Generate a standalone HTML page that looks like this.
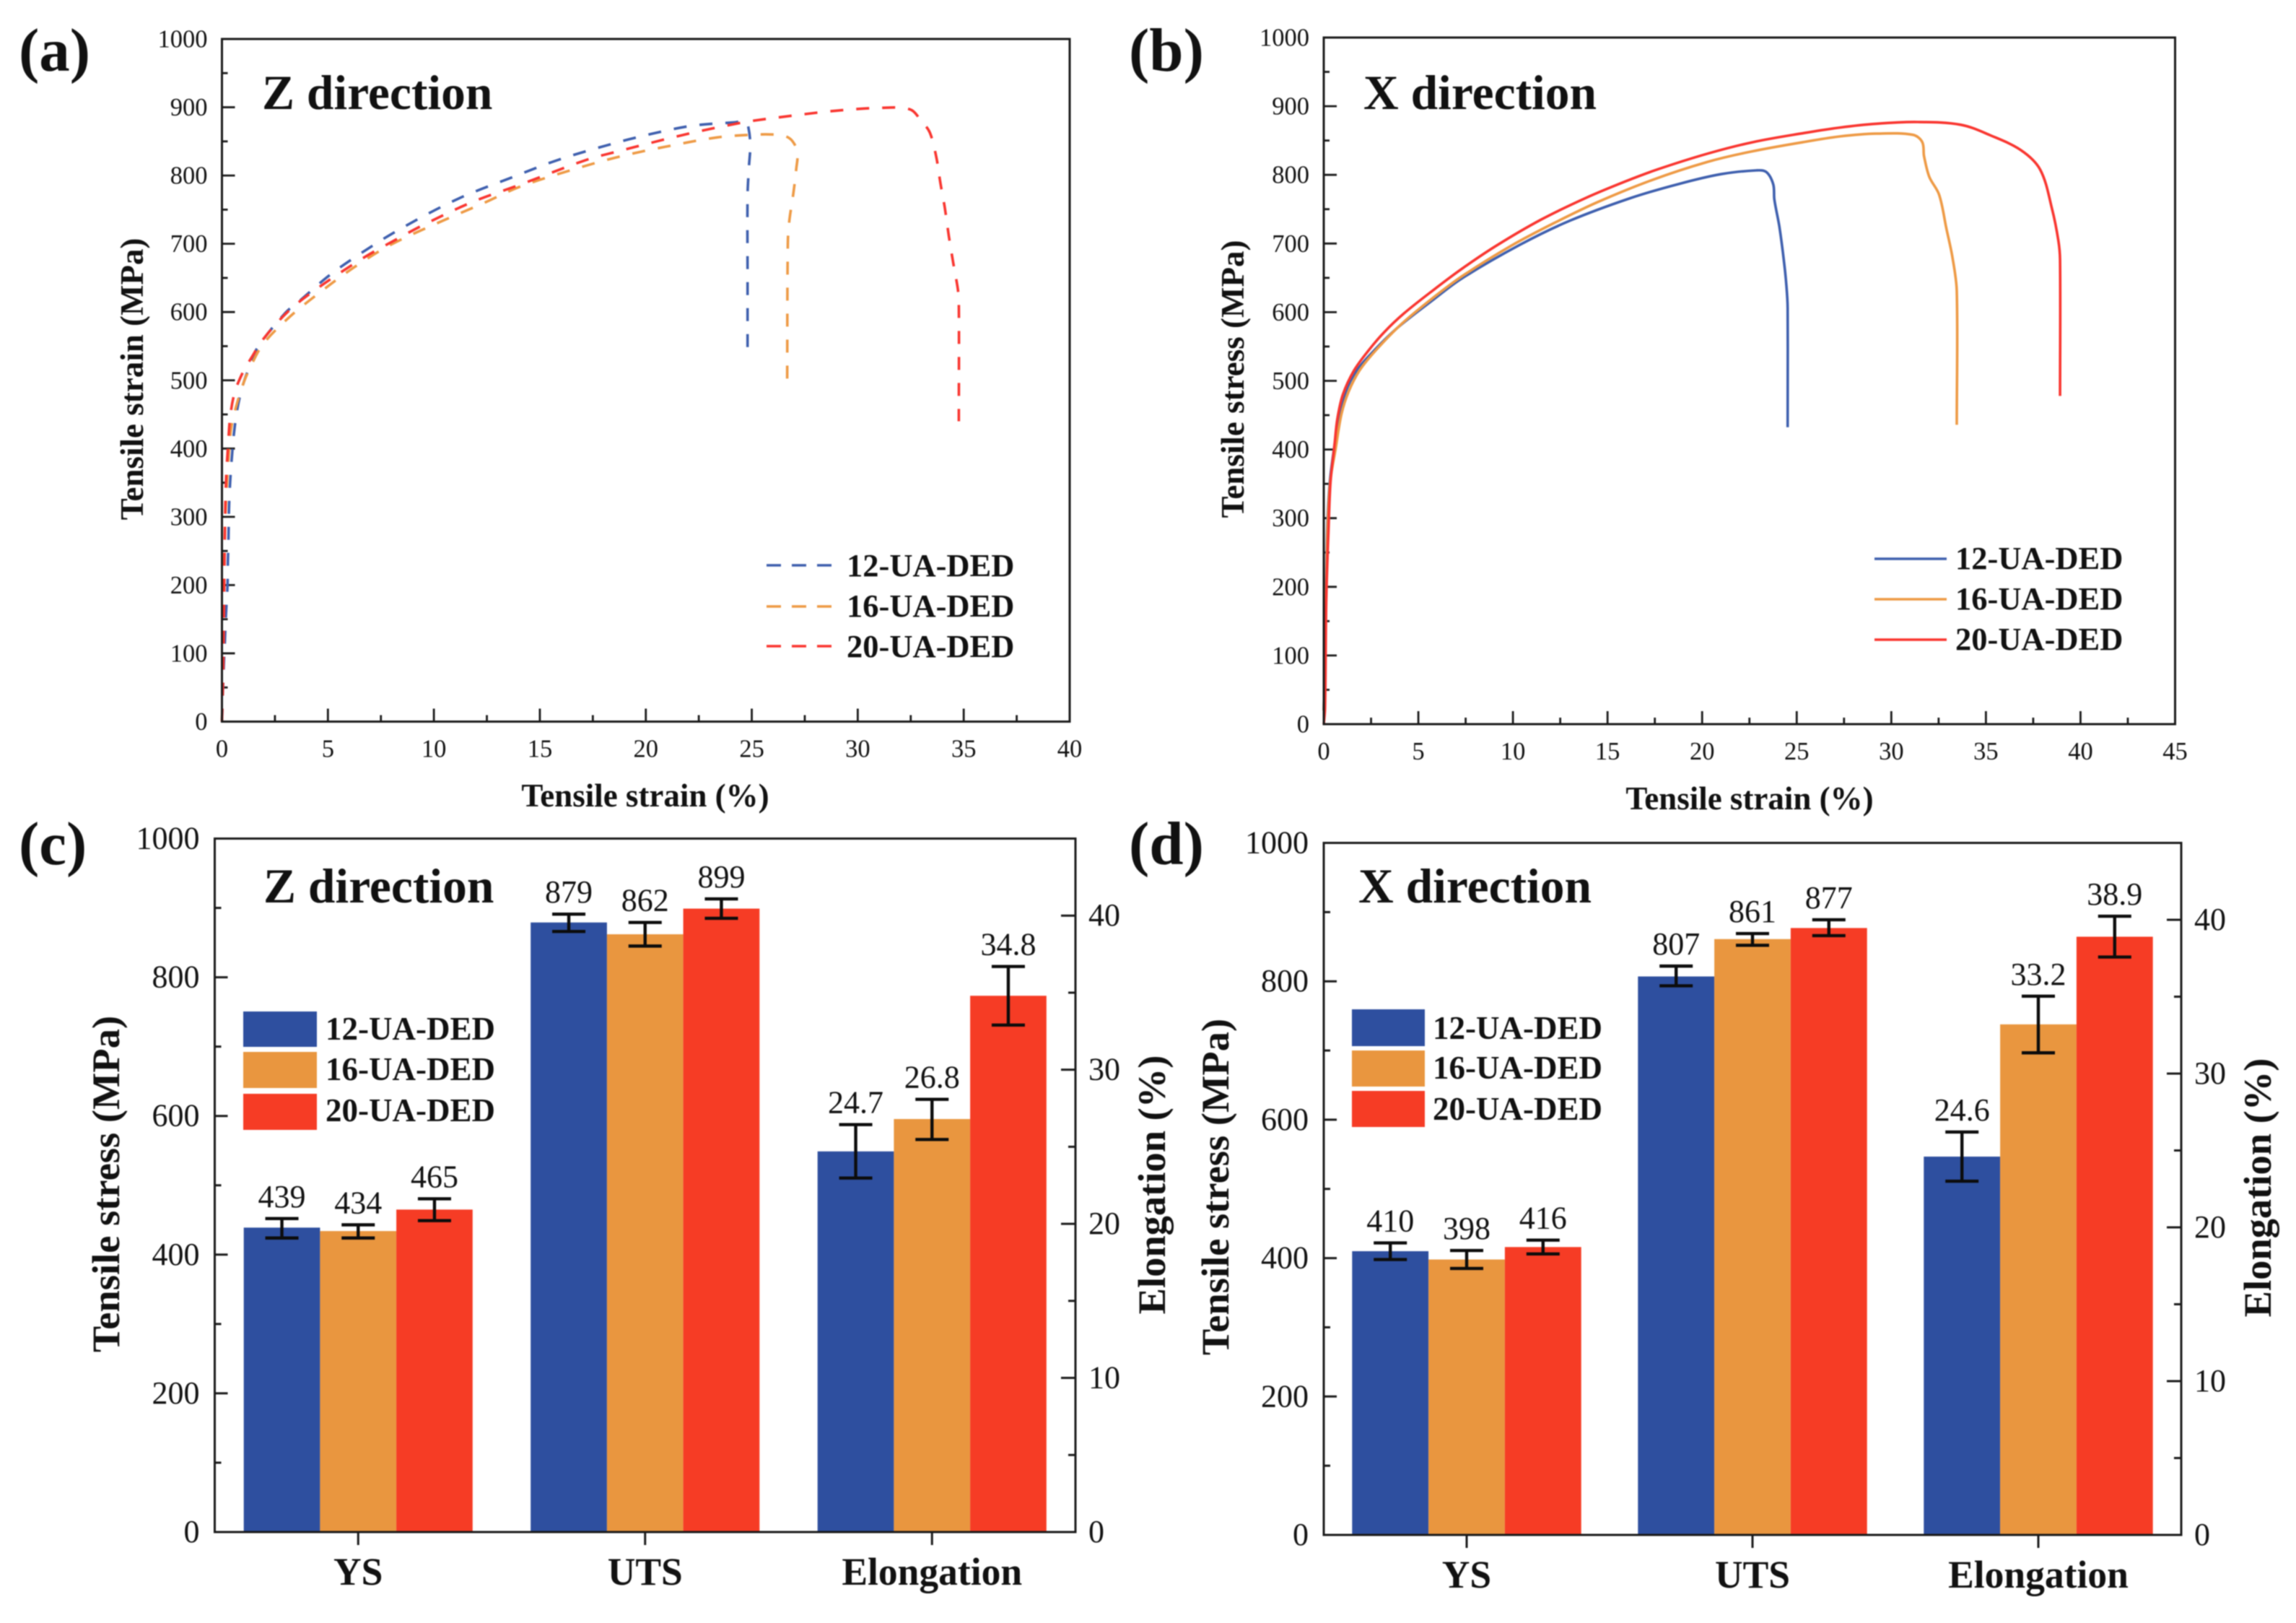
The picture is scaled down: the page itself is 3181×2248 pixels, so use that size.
<!DOCTYPE html>
<html lang="en">
<head>
<meta charset="utf-8">
<title>Tensile properties of UA-DED samples in Z and X directions</title>
<style>
html,body{margin:0;padding:0;background:#fff;}
svg{display:block;filter:blur(0.7px);}
text{font-family:"Liberation Serif",serif;fill:#111;}
.b{font-weight:bold;}
</style>
</head>
<body>
<svg id="figure" xmlns="http://www.w3.org/2000/svg" width="3181" height="2248" viewBox="0 0 3181 2248">
  <rect x="0" y="0" width="3181" height="2248" fill="#fff"/>

  <text class="b" x="26" y="98" font-size="85">(a)</text>
  <text class="b" x="1564" y="98" font-size="85">(b)</text>
  <text class="b" x="26" y="1197" font-size="85">(c)</text>
  <text class="b" x="1564" y="1197" font-size="85">(d)</text>

  <text class="b" x="363" y="151" font-size="67.5">Z direction</text>
  <text class="b" x="1889" y="151" font-size="67.5">X direction</text>
  <text class="b" x="365" y="1250" font-size="67.5">Z direction</text>
  <text class="b" x="1882" y="1250" font-size="67.5">X direction</text>

  <text class="b" x="894" y="1117" font-size="45" text-anchor="middle">Tensile strain (%)</text>
  <text class="b" transform="translate(198 525) rotate(-90)" font-size="45" text-anchor="middle">Tensile strain (MPa)</text>
  <text class="b" x="2424" y="1121" font-size="45" text-anchor="middle">Tensile strain (%)</text>
  <text class="b" transform="translate(1723 525) rotate(-90)" font-size="45" text-anchor="middle">Tensile stress (MPa)</text>

  <text class="b" transform="translate(165 1640) rotate(-90)" font-size="54.5" text-anchor="middle">Tensile stress (MPa)</text>
  <text class="b" transform="translate(1614 1641) rotate(-90)" font-size="54.5" text-anchor="middle">Elongation (%)</text>
  <text class="b" transform="translate(1702 1644) rotate(-90)" font-size="54.5" text-anchor="middle">Tensile stress (MPa)</text>
  <text class="b" transform="translate(3146 1645) rotate(-90)" font-size="54.5" text-anchor="middle">Elongation (%)</text>

  <g>
    <line x1="1062" x2="1153" y1="783" y2="783" stroke="#3E5FAE" stroke-width="3.5" stroke-dasharray="20 15"/>
    <line x1="1062" x2="1153" y1="840" y2="840" stroke="#EE9A45" stroke-width="3.5" stroke-dasharray="20 15"/>
    <line x1="1062" x2="1153" y1="895" y2="895" stroke="#F9352F" stroke-width="3.5" stroke-dasharray="20 15"/>
    <text class="b" x="1173" y="798" font-size="44.5">12-UA-DED</text>
    <text class="b" x="1173" y="854" font-size="44.5">16-UA-DED</text>
    <text class="b" x="1173" y="910" font-size="44.5">20-UA-DED</text>
  </g>
  <g>
    <line x1="2597" x2="2697" y1="774" y2="774" stroke="#3E5FAE" stroke-width="3.5"/>
    <line x1="2597" x2="2697" y1="830" y2="830" stroke="#EE9A45" stroke-width="3.5"/>
    <line x1="2597" x2="2697" y1="886" y2="886" stroke="#F9352F" stroke-width="3.5"/>
    <text class="b" x="2709" y="788" font-size="44.5">12-UA-DED</text>
    <text class="b" x="2709" y="844" font-size="44.5">16-UA-DED</text>
    <text class="b" x="2709" y="900" font-size="44.5">20-UA-DED</text>
  </g>
  <g>
    <rect x="337" y="1401" width="102" height="49" fill="#2E4F9F"/>
    <rect x="337" y="1457" width="102" height="50" fill="#E9963F"/>
    <rect x="337" y="1515" width="102" height="50" fill="#F63C25"/>
    <text class="b" x="451" y="1440" font-size="45">12-UA-DED</text>
    <text class="b" x="451" y="1496" font-size="45">16-UA-DED</text>
    <text class="b" x="451" y="1553" font-size="45">20-UA-DED</text>
  </g>
  <g>
    <rect x="1873" y="1398" width="101" height="51" fill="#2E4F9F"/>
    <rect x="1873" y="1455" width="101" height="50" fill="#E9963F"/>
    <rect x="1873" y="1511" width="101" height="50" fill="#F63C25"/>
    <text class="b" x="1985" y="1439" font-size="45">12-UA-DED</text>
    <text class="b" x="1985" y="1494" font-size="45">16-UA-DED</text>
    <text class="b" x="1985" y="1551" font-size="45">20-UA-DED</text>
  </g>
</svg>

<script>
// Panel (a): Z direction stress-strain
const zStrain12 = [0,0.085,0.14,0.19,0.26,0.28,0.31,0.33,0.38,0.46,0.56,0.72,0.97,1.3,1.7,3,3.65,5.12,6.75,8.54,11.15,13.75,15.87,18.48,20.27,22.2,24.2,24.7,24.83,24.93,24.87,24.8,24.8,24.8];
const zStress12 = [0,81,119,158,197,234,271,310,348,384,420,457,491,520,549,599,616,655,690,724,766,798,823,847,861,873,878,879,872,846,814,771,650,537];
const zStrain16 = [0,0.06,0.14,0.26,0.36,0.45,0.7,1.03,1.35,1.94,3.16,4.63,6.26,7.9,9.85,12.3,14.1,16.7,18.8,20.9,23.4,25.2,26.1,26.56,26.9,27.15,27.1,26.95,26.77,26.7,26.67];
const zStress16 = [0,100,281,362,408,433,465,497,520,553,592,629,666,697.5,726,759,784,810,828,842,856,860,860,858,851,835,810,771,733,700,500];
const zStrain20 = [0,0.05,0.085,0.14,0.19,0.29,0.39,0.6,0.96,1.37,1.94,3.16,4.47,6.6,8.2,9.5,11.8,14.1,17.2,18.64,20.9,22.55,24.2,25,27,29,31,32.45,33,33.4,33.7,33.9,34.1,34.3,34.5,34.72,34.77,34.77];
const zStress20 = [0,60,140,281,352,405,447,482,510,532,560,602,634,678,706,727.5,761,787,823,835,853,865,875.5,880,888,895,899,897,880,863,828,789,754,711,673,634,613,440];

// Panel (b): X direction stress-strain
const xStrain12 = [0,0.11,0.18,0.32,0.57,0.8,1.16,1.74,2.62,3.93,5.83,7.29,10.36,12.99,16.2,18.8,21,22.87,23.4,23.76,23.82,24.08,24.33,24.46,24.52,24.52];
const xStress12 = [20,177,283,353,406,445,484,515,543,578,619,649,698,733,766,787,801,806.5,804,786,764,725,673,637,606,432.5];
const xStrain16 = [0,0.12,0.2,0.34,0.62,0.94,1.31,1.89,2.77,4.08,5.69,7.29,9.92,12.26,14.45,17.4,20.3,22.6,25.4,27.3,29.2,31.13,31.63,31.73,32.01,32.53,32.91,33.23,33.46,33.46];
const xStress16 = [20,177,283,353,400,452,484,515,545,582,619,652,697,731,760,793,819,834,848,856,860,858.4,848,827,797,771,722,680,631,436];
const xStrain20 = [0,0.07,0.13,0.25,0.36,0.58,0.72,1.01,1.6,2.33,3.2,4.23,5.69,7.29,9.19,11.5,13.9,15.9,17.65,20.3,22.74,25.4,27.3,29.2,31.39,33.67,35.2,36.85,37.87,38.5,38.83,38.92,38.92];
const xStress20 = [0,24,177,283,353,410,445,480,515,543,571,598,630,663,698,735,767,790,808,831,848,861,869,874.5,877,873,858,836,807.6,750,704,676,478];

// Shared axis ticks for stress-strain panels
const stressTicksLine = [0,100,200,300,400,500,600,700,800,900,1000];
const stressMinorLine = [50,150,250,350,450,550,650,750,850,950];
const strainTicksA = [0,5,10,15,20,25,30,35,40];
const strainMinorA = [2.5,7.5,12.5,17.5,22.5,27.5,32.5,37.5];
const strainTicksB = [0,5,10,15,20,25,30,35,40,45];
const strainMinorB = [2.5,7.5,12.5,17.5,22.5,27.5,32.5,37.5,42.5];

// Bar panels: categories and ticks
const categories = ['YS','UTS','Elongation'];
const stressTicksBar = [0,200,400,600,800,1000];
const stressMinorBar = [100,300,500,700,900];
const elongTicks = [0,10,20,30,40];
const elongMinor = [5,15,25,35];

// Panel (c): Z direction values
const zBar12 = [439,879,24.7];
const zBar16 = [434,862,26.8];
const zBar20 = [465,899,34.8];
const zBar12ErrUp = [13,12,1.74];
const zBar12ErrDown = [15,13,1.73];
const zBar16ErrUp = [9,17,1.28];
const zBar16ErrDown = [10,17,1.33];
const zBar20ErrUp = [15.5,14,1.9];
const zBar20ErrDown = [16,14,1.9];

// Panel (d): X direction values
const xBar12 = [410,807,24.6];
const xBar16 = [398,861,33.2];
const xBar20 = [416,877,38.9];
const xBar12ErrUp = [12,15,1.6];
const xBar12ErrDown = [12,13.5,1.6];
const xBar16ErrUp = [13,8,1.83];
const xBar16ErrDown = [13,9,1.85];
const xBar20ErrUp = [10,12,1.33];
const xBar20ErrDown = [10,11,1.32];

const NS = 'http://www.w3.org/2000/svg';
const svg = document.getElementById('figure');
const LINE_COLORS = ['#3E5FAE','#EE9A45','#F9352F'];
const BAR_COLORS = ['#2E4F9F','#E9963F','#F63C25'];
const SERIES = ['12','16','20'];

function mk(tag, attrs, parent) {
  const el = document.createElementNS(NS, tag);
  for (const k in attrs) el.setAttribute(k, attrs[k]);
  parent.appendChild(el);
  return el;
}
function linear(d0, d1, r0, r1) {
  return v => r0 + (v - d0) * (r1 - r0) / (d1 - d0);
}
function smoothPath(p) {
  const tan = p.map((q, i) => {
    const a = p[Math.max(i - 1, 0)], b = p[Math.min(i + 1, p.length - 1)];
    const dx = b[0] - a[0], dy = b[1] - a[1], n = Math.hypot(dx, dy) || 1;
    return [dx / n, dy / n];
  });
  let d = 'M' + p[0][0].toFixed(1) + ' ' + p[0][1].toFixed(1);
  for (let i = 1; i < p.length; i++) {
    const len = Math.hypot(p[i][0] - p[i-1][0], p[i][1] - p[i-1][1]) / 3;
    d += 'C' + (p[i-1][0] + tan[i-1][0] * len).toFixed(1) + ' ' + (p[i-1][1] + tan[i-1][1] * len).toFixed(1) + ' ' +
      (p[i][0] - tan[i][0] * len).toFixed(1) + ' ' + (p[i][1] - tan[i][1] * len).toFixed(1) + ' ' +
      p[i][0].toFixed(1) + ' ' + p[i][1].toFixed(1);
  }
  return d;
}
function axisTick(parent, x1, y1, x2, y2, w) {
  const t = mk('line', {x1:x1, y1:y1, x2:x2, y2:y2, stroke:'#1a1a1a', 'stroke-width':w}, parent);
  
  
}
function tickLabel(parent, str, x, y, size, anchor) {
  const t = mk('text', {x:x, y:y, 'font-size':size, 'text-anchor':anchor}, parent);
  t.textContent = str;
  
  
}
function frameRect(parent, f) {
  const r = mk('rect', {x:f.l, y:f.t, width:f.r-f.l, height:f.b-f.t, fill:'none', stroke:'#1a1a1a', 'stroke-width':3}, parent);
  
  
}

function drawLinePanel(name, f, xMax, xTicks, xMinor, curves, dash) {
  const g = mk('g', {}, svg);
  
  
  const X = linear(0, xMax, f.l, f.r);
  const Y = linear(0, 1000, f.b, f.t);
  stressTicksLine.forEach(v => {
    axisTick(g, f.l, Y(v), f.l + 18, Y(v), 2.8);
    tickLabel(g, String(v), f.l - 20, Y(v) + 11.5, 34.5, 'end');
  });
  stressMinorLine.forEach(v => axisTick(g, f.l, Y(v), f.l + 8, Y(v), 2.8));
  xTicks.forEach(v => {
    axisTick(g, X(v), f.b, X(v), f.b - 18, 2.8);
    tickLabel(g, String(v), X(v), f.b + 49, 34.5, 'middle');
  });
  xMinor.forEach(v => axisTick(g, X(v), f.b, X(v), f.b - 9, 2.8));
  curves.forEach((c, i) => {
    const pts = c[0].map((x, j) => [X(x), Y(c[1][j])]);
    const attrs = {d:smoothPath(pts), fill:'none', stroke:LINE_COLORS[i], 'stroke-width':3.6, 'stroke-linejoin':'round'};
    if (dash) attrs['stroke-dasharray'] = dash;
    const line = mk('path', attrs, g);
    
    
  });
  frameRect(g, f);
}

function drawBarPanel(name, f, series, errUp, errDown, barW, catBaseline) {
  const g = mk('g', {}, svg);
  
  
  const YL = linear(0, 1000, f.b, f.t);
  const YR = linear(0, 45, f.b, f.t);
  const band = (f.r - f.l) / categories.length;
  const catX = i => f.l + band * (i + 0.5);
  series.forEach((vals, s) => {
    vals.forEach((v, c) => {
      const scale = categories[c] === 'Elongation' ? YR : YL;
      const left = catX(c) + (s - 1.5) * barW;
      const bar = mk('rect', {x:left, y:scale(v), width:barW, height:f.b - scale(v), fill:BAR_COLORS[s]}, g);
      
      
    });
  });
  series.forEach((vals, s) => {
    vals.forEach((v, c) => {
      const scale = categories[c] === 'Elongation' ? YR : YL;
      const cx = catX(c) + (s - 1) * barW;
      const yTop = scale(v + errUp[s][c]);
      const yBot = scale(v - errDown[s][c]);
      const err = mk('path', {
        d: 'M' + (cx - 23) + ' ' + yTop + 'H' + (cx + 23) + 'M' + cx + ' ' + yTop + 'V' + yBot + 'M' + (cx - 23) + ' ' + yBot + 'H' + (cx + 23),
        fill:'none', stroke:'#0c0c0c', 'stroke-width':4.4
      }, g);
      
      
      const lab = mk('text', {x:cx, y:yTop - 16, 'font-size':44, 'text-anchor':'middle'}, g);
      lab.textContent = String(v);
      
      
    });
  });
  stressTicksBar.forEach(v => {
    axisTick(g, f.l, YL(v), f.l + 18, YL(v), 3);
    tickLabel(g, String(v), f.l - 21, YL(v) + 14, 44, 'end');
  });
  stressMinorBar.forEach(v => axisTick(g, f.l, YL(v), f.l + 9, YL(v), 3));
  elongTicks.forEach(v => {
    axisTick(g, f.r, YR(v), f.r - 20, YR(v), 3);
    tickLabel(g, String(v), f.r + 18, YR(v) + 14, 44, 'start');
  });
  elongMinor.forEach(v => axisTick(g, f.r, YR(v), f.r - 10, YR(v), 3));
  categories.forEach((c, i) => {
    axisTick(g, catX(i), f.b, catX(i), f.b + 18, 3);
    const t = mk('text', {x:catX(i), y:catBaseline, 'font-size':53.5, 'font-weight':'bold', 'text-anchor':'middle'}, g);
    t.textContent = c;
    
    
  });
  frameRect(g, f);
}

drawLinePanel('panel-a-z-direction-curves', {l:307.5, r:1482, t:54, b:999.5}, 40, strainTicksA, strainMinorA,
  [[zStrain12, zStress12], [zStrain16, zStress16], [zStrain20, zStress20]], '18 18');
drawLinePanel('panel-b-x-direction-curves', {l:1834, r:3013.5, t:52, b:1003}, 45, strainTicksB, strainMinorB,
  [[xStrain12, xStress12], [xStrain16, xStress16], [xStrain20, xStress20]], null);
drawBarPanel('panel-c-z-direction-bars', {l:297.5, r:1490, t:1161.5, b:2122},
  [zBar12, zBar16, zBar20], [zBar12ErrUp, zBar16ErrUp, zBar20ErrUp], [zBar12ErrDown, zBar16ErrDown, zBar20ErrDown], 105.7, 2195);
drawBarPanel('panel-d-x-direction-bars', {l:1834, r:3022, t:1167.5, b:2126},
  [xBar12, xBar16, xBar20], [xBar12ErrUp, xBar16ErrUp, xBar20ErrUp], [xBar12ErrDown, xBar16ErrDown, xBar20ErrDown], 105.8, 2199);
</script>
</body>
</html>
